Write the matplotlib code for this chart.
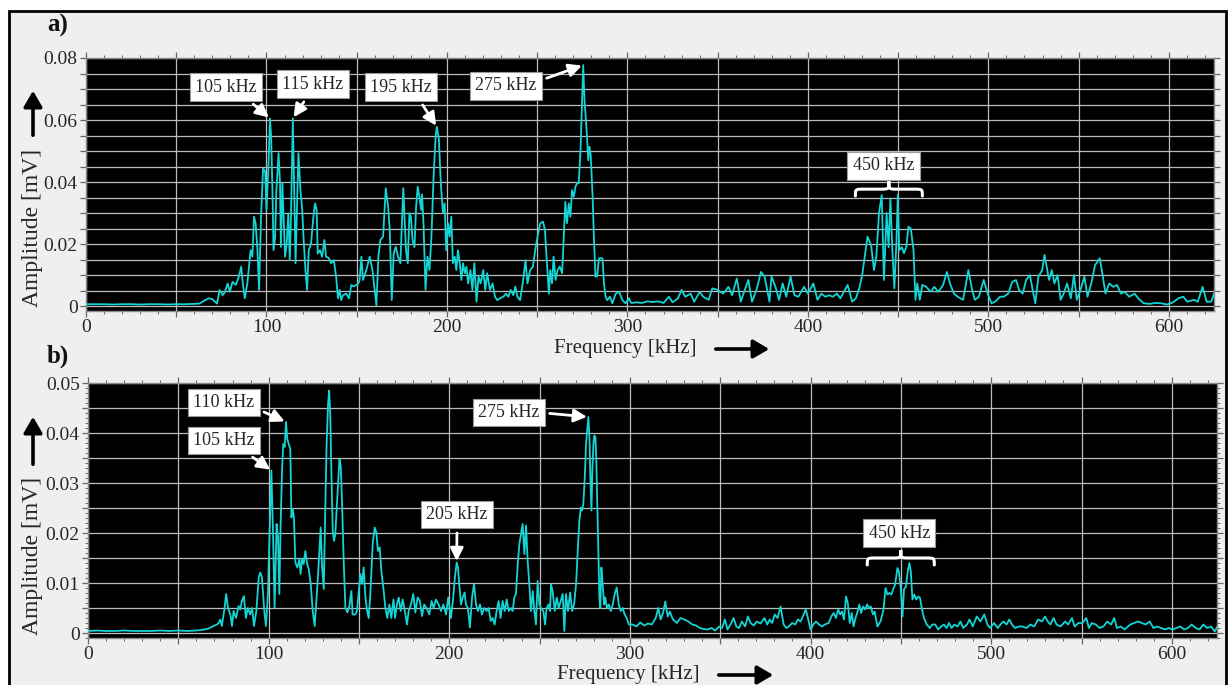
"""
Amplitude spectra of two acoustic emission signals, panels a) and b).
"""

# ============================================================
# Import Libraries
# ============================================================
import numpy as np
import matplotlib
matplotlib.use('Agg')
import matplotlib.pyplot as plt
from matplotlib.path import Path
from matplotlib.patches import PathPatch, Rectangle, FancyArrowPatch
from matplotlib.ticker import MultipleLocator, FuncFormatter

# ============================================================
# Configuration Constants
# ============================================================
FIG_W, FIG_H = 1228, 685
DPI = 100
FONT = ['Liberation Serif', 'DejaVu Serif']
LINE_COLOR = '#14d4d4'
GRID_COLOR = '#bdbdbd'
PANEL_BG = '#efefef'
TEXT_COLOR = '#262626'
F_MAX = 625

plt.rcParams['font.family'] = FONT

# ============================================================
# Data: spectrum a)
# ============================================================
freq_a = [
    0, 5, 10, 15, 20, 25, 30, 35, 40, 45, 50, 55, 60, 63,
    66, 68, 70, 72.6, 74, 75.8, 77, 78.5, 79.7, 81.2, 83, 84.7, 86, 86.9, 88, 89.4,
    91.2, 92.2, 93.1, 94, 95, 95.9, 97, 98.1, 99.3, 100, 101.1, 101.9, 102.6, 103.3,
    103.9, 104.8, 105.5, 106.7, 107.5, 108, 108.8, 109.5, 110.3, 111.2, 112.1, 112.9,
    113.6, 114.6, 115.3, 116.1, 116.8, 117.7, 118.8, 119.8, 120.5, 121.6, 122.5, 123.4,
    124.7, 126, 126.9, 127.8, 128.4, 129.7, 130.8, 132.1, 133, 134.5, 135.8, 137.3,
    138.6, 139.6, 140.5, 141.4, 142.4, 144.2, 145.7, 147, 148.3, 149.8, 150.9, 151.6,
    152.6, 153.5, 155.3, 157.2, 158.7, 160.9, 162, 163.1, 164.6, 166.1, 167.4, 168.3,
    169.4, 170.5, 171.6, 172.9, 174.2, 175.8, 177.3, 178.3, 179.2, 180, 181, 182,
    182.9, 183.8, 184.8, 185.7, 186.2, 187, 188.1, 189.2, 190.3, 191.4, 192.6, 193.7,
    194.4, 195.5, 196.7, 197.8, 198.7, 199.6, 200.6, 201.5, 202.4, 203.3, 204.3, 205.2,
    206.1, 207.1, 208, 208.9, 209.9, 210.8, 211.7, 213, 214.1, 215.2, 216.4, 217.5,
    218.6, 220.1, 221.2, 222.3, 223.8, 225.3, 226.6, 227.9, 229.4, 231.2, 232.7, 234,
    235.3, 236.8, 237.9, 239, 240.5, 242, 243.5, 244.6, 246.1, 247.6, 248.9, 250.2,
    251.7, 253.2, 254.3, 255.4, 256.5, 257.2, 258.2, 259.1, 260.2, 261.3, 262.5, 263.8,
    264.7, 265.6, 266.5, 267.5, 268.4, 269.3, 270.3, 271.2, 272.1, 273, 274, 274.9,
    275.5, 276.2, 277, 277.7, 278.3, 279, 279.7, 280.7, 281.4, 282.3, 283.2, 284.2,
    285.2, 286.2, 287, 287.9, 288.8, 290.3, 291.6, 293.5, 295.4, 297.2, 299, 300.9,
    302, 305, 308, 311, 314, 317, 320, 323, 325, 328, 330, 332, 335, 337, 340, 342,
    345, 347, 350, 353, 356, 358, 360.6, 362.8, 365, 367, 369, 371.5, 374, 376, 378.7,
    379.8, 382, 384, 386, 388, 390.4, 392.5, 394.7, 397.9, 400, 403, 405.3, 407.5,
    409.6, 411.7, 413.8, 416, 418, 420, 422, 424.5, 426.6, 428.7, 430.2, 433, 435,
    436.6, 437.9, 439.4, 440.9, 442.1, 443.6, 444.7, 445.7, 446.8, 447.9, 449, 449.8,
    450.6, 452.1, 453.2, 454.5, 455.7, 457, 458.5, 459.6, 460.6, 462, 463.4, 465.5,
    468, 470, 472.3, 474.9, 477, 478.7, 480.9, 483, 486, 488.9, 491, 492.5, 494.7,
    497.4, 499.6, 501.7, 503.8, 506.4, 508.5, 511, 513.2, 515.3, 517, 519, 520.9, 523,
    524.5, 526, 527.7, 529.8, 531.1, 532.3, 533.6, 535.1, 536.6, 538.3, 540, 541.7,
    543.6, 545.7, 547.4, 549, 551, 553.2, 554.9, 557, 559.1, 561.7, 563.4, 564.9, 567,
    569.1, 571.3, 573.4, 575.5, 578, 581, 583, 586, 589.5, 592.5, 595.7, 598.9, 602,
    605.3, 608, 610.2, 614, 616, 618.7, 620.9, 623.5, 625,
]
amp_a = [
    0.0006, 0.0006, 0.0006, 0.0005, 0.0006, 0.0006, 0.0005, 0.0006, 0.0006, 0.0005,
    0.0006, 0.0006, 0.0007, 0.0008,
    0.0019, 0.0025, 0.0022, 0.0008, 0.0052, 0.0035, 0.0046, 0.0073, 0.0046, 0.0078,
    0.0068, 0.0095, 0.0127, 0.0073, 0.0025, 0.0073,
    0.018, 0.0159, 0.0288, 0.0267, 0.018, 0.0052, 0.0288, 0.0444, 0.0433, 0.031, 0.045,
    0.0605, 0.0546, 0.0374,
    0.018, 0.0224, 0.0374, 0.0493, 0.0396, 0.0191, 0.0396, 0.0288, 0.0159, 0.0202,
    0.0299, 0.0148,
    0.0288, 0.0605, 0.0396, 0.0138, 0.0288, 0.0493, 0.0374, 0.031, 0.0224, 0.0116,
    0.0052, 0.018,
    0.0202, 0.0288, 0.0331, 0.031, 0.0169, 0.018, 0.0159, 0.0213, 0.0159, 0.0155,
    0.0138, 0.0148,
    0.0095, 0.0025, 0.0052, 0.0019, 0.0035, 0.004, 0.0025, 0.0068, 0.0063, 0.0068,
    0.0073, 0.0084,
    0.0159, 0.0084, 0.0116, 0.0159, 0.0116, 0.0003, 0.0159, 0.0213, 0.0224, 0.038,
    0.032, 0.0245,
    0.0019, 0.0169, 0.0191, 0.0159, 0.0138, 0.038, 0.018, 0.0138, 0.030, 0.0288,
    0.021, 0.019,
    0.032, 0.0385, 0.035, 0.031, 0.036, 0.0267, 0.0052, 0.0159, 0.0116, 0.0224,
    0.0418, 0.0546,
    0.0578, 0.054, 0.0385, 0.030, 0.0331, 0.018, 0.0267, 0.0224, 0.0288, 0.0138,
    0.0159, 0.0116,
    0.018, 0.0138, 0.0084, 0.0138, 0.0106, 0.0127, 0.0073, 0.0116, 0.0052, 0.0138,
    0.0014, 0.0095,
    0.0073, 0.0116, 0.0052, 0.0106, 0.0052, 0.0073, 0.003, 0.0019, 0.0025, 0.003,
    0.004, 0.003,
    0.0052, 0.0035, 0.0063, 0.003, 0.0019, 0.0073, 0.0148, 0.0073, 0.0116, 0.0127,
    0.018, 0.0224,
    0.0267, 0.0272, 0.0245, 0.0138, 0.004, 0.0116, 0.0073, 0.0159, 0.0084, 0.0116,
    0.0127, 0.0106,
    0.0224, 0.0336, 0.0267, 0.0331, 0.0288, 0.0374, 0.0353, 0.0385, 0.0396, 0.0396,
    0.0503, 0.0665,
    0.0777, 0.0665, 0.060, 0.0535, 0.047, 0.0514, 0.0482, 0.0353, 0.0224, 0.0095,
    0.0095, 0.0154,
    0.0154, 0.0154, 0.0073, 0.003, 0.0019, 0.003, 0.0009, 0.004, 0.0046, 0.0019,
    0.0009, 0.0025,
    0.001, 0.0012, 0.001, 0.0015, 0.0013, 0.0015, 0.001, 0.003, 0.0012, 0.0025, 0.0052,
    0.003, 0.004, 0.0014, 0.0046, 0.003,
    0.002, 0.0057, 0.0052, 0.004, 0.0062, 0.0035, 0.0089, 0.0014, 0.0052, 0.0084,
    0.0014, 0.0052, 0.011, 0.0095, 0.0014,
    0.0095, 0.0062, 0.002, 0.0073, 0.003, 0.0095, 0.0035, 0.003, 0.0062, 0.004, 0.0073,
    0.002, 0.004,
    0.003, 0.0035, 0.003, 0.004, 0.0025, 0.0046, 0.0068, 0.0014, 0.0025, 0.0062,
    0.0105, 0.0224, 0.0197,
    0.0116, 0.0159, 0.030, 0.0358, 0.0084, 0.030, 0.019, 0.0347, 0.018, 0.0057, 0.020,
    0.0358,
    0.018, 0.019, 0.017, 0.019, 0.0256, 0.025, 0.018, 0.002, 0.0073, 0.002, 0.0068,
    0.0062,
    0.0046, 0.0062, 0.0046, 0.0068, 0.011, 0.0073, 0.004, 0.003, 0.002, 0.0116, 0.0052,
    0.002, 0.003,
    0.0084, 0.004, 0.0009, 0.0014, 0.003, 0.003, 0.004, 0.0078, 0.0084, 0.0052, 0.004,
    0.0084, 0.01,
    0.0052, 0.0009, 0.0095, 0.0116, 0.0165, 0.0127, 0.0084, 0.0116, 0.0073, 0.01,
    0.002, 0.004,
    0.0073, 0.0025, 0.01, 0.002, 0.0052, 0.0095, 0.003, 0.0073, 0.0132, 0.0154, 0.0095,
    0.004, 0.0073,
    0.0062, 0.0068, 0.004, 0.0046, 0.003, 0.004, 0.0025, 0.0009, 0.0007, 0.001, 0.0009,
    0.0005, 0.0011,
    0.0025, 0.003, 0.0014, 0.002, 0.0014, 0.0062, 0.0014, 0.0014, 0.004,
]

# ============================================================
# Data: spectrum b)
# ============================================================
freq_b = [
    0, 5, 10, 15, 20, 25, 30, 35, 40, 45, 50, 55, 60, 63,
    66.8, 69.5, 71.4, 72.3, 73.2, 74.1, 75.6, 76.5, 77.5, 78.8, 79.7, 80.6, 81.9, 83.4,
    84.3, 85.2, 86.3, 87.4, 88.5, 89.8, 90.8, 91.9, 93.2, 94.5, 95.4, 96.3, 97.6, 98.5,
    99.6, 100.6, 101.5, 102.4, 103.3, 104.4, 105.2, 105.9, 106.6, 107.4, 108.1, 108.9,
    109.6, 110.3, 111.1, 112, 112.6, 113.3, 114, 114.8, 115.9, 117, 117.7, 118.5, 119.4,
    120.3, 121.3, 122.2, 123.3, 124.4, 125.5, 126.8, 128.1, 128.8, 129.5, 130.5, 131.4,
    132.1, 132.9, 133.5, 134.1, 134.8, 135.5, 136.2, 136.9, 138, 139.2, 139.9, 140.6,
    141.6, 142.5, 143.6, 144.7, 145.8, 146.5, 148, 148.9, 149.9, 150.8, 151.7, 152.6,
    153.6, 154.5, 155.4, 156.3, 157.6, 158.7, 159.6, 160.5, 161.5, 162.4, 163.7, 164.6,
    165.7, 166.8, 167.9, 169.1, 170, 171, 172, 173.1, 174.2, 175.4, 176.6,
    177.5, 178.8, 180.1, 181.2, 182.5, 183.7, 184.9, 186.1, 187.4, 188.9, 190.2, 191.3,
    192.6, 194.1, 195.4, 196.7, 198.2, 199.4, 200.9, 202.2, 203.1, 204.1, 204.8, 205.5,
    206.5, 207.4, 208.5, 209.2, 210.3, 211.4, 212.6, 213.7, 214.8, 215.9, 217, 218.1,
    219.4, 220.7, 221.8, 222.9, 224, 225.1, 226.2, 227.3, 228.4, 229.5, 230.7, 231.8,
    232.9, 234, 235.1, 236, 236.9, 237.9, 238.8, 239.7, 240.6, 241.6, 242.5, 243.4,
    244.3, 245.2, 246.2, 247.1, 248, 248.9, 249.9, 250.8, 252.1, 253, 253.9, 255,
    255.8, 256.3, 257.2, 258.4, 259.5, 260.6, 261.7, 262.8, 263.7, 264.6, 265.7, 266.9,
    268, 269.1, 270.2, 271.1, 272, 272.9, 273.5, 274.2, 275, 275.7, 276.5, 277,
    277.6, 278.1, 278.7, 279.2, 279.8, 280.3, 280.9, 281.4, 282, 282.5, 283.1, 283.6,
    284.2, 284.9, 285.7, 286.4, 287.2, 288.3, 289.4, 290.5, 291.6, 292.7, 293.8, 294.9,
    296, 297.1, 298.2, 299.4,
    301.5, 303.6, 305.7, 307.9, 310, 312.1, 314.3, 315.7, 317, 318.3, 319.6, 320.9,
    322.1, 323.8, 326, 328, 330.2, 332.3, 334.5, 336.6, 338.7, 340.9, 343, 345.1,
    347.2, 349.4, 351, 352.6, 354, 355.7, 357.4, 358.9, 360.4, 362, 363.8, 365.3,
    366.8, 368.5, 370.2, 372.3, 374.5, 376, 377.4, 378.7, 380.2, 381.7, 383.4, 385.1,
    386.6, 388, 389.8, 391.5, 393, 394.5, 396.2, 397.4, 398.7, 400, 401.5, 403,
    404.7, 406.4, 407.9, 410, 411.5, 412.8, 414, 415.3, 416.4, 417.4, 418.5, 419.6,
    420.6, 421.7, 422.8, 423.8, 424.9, 426, 427, 428, 429.1, 430.2, 431.3, 432.3,
    433.4, 434.5, 435.5, 437, 438.7, 440.4, 441.5, 442.6, 443.6, 444.7, 445.7, 446.8,
    448.1, 448.9, 450, 450.9, 451.7, 452.8, 453.8, 454.7, 455.5, 456.4, 457.4, 458.5,
    459.6, 460.6, 461.7, 462.8, 464.3, 466, 467.4, 469, 470.6, 472.3, 473.8, 475.3,
    476.6, 478.1, 479.6, 481.3, 483, 484.5, 486.6, 488, 489.8, 492, 494, 496.2,
    497.9, 499.4, 501.5, 503.6, 505.1, 506.8, 508.5, 510, 511.5, 513.2, 515.3, 517.4,
    519.6, 521.7, 523.8, 526, 528.1, 529.8, 531.3, 532.8, 534.5, 536.2, 538.3, 540.9,
    542.6, 544.7, 546.2, 548.3, 550.4, 552.6, 554.1, 555.7, 557.9, 560, 562.1, 564.3,
    566.4, 568.1, 569.6, 571.7, 573.8, 577, 579.1, 581.3, 583.4, 585.5, 587.7, 589.8,
    591.9, 594, 596.2, 598.3, 600.4, 602.6, 604.7, 606.8, 608.9, 611, 613.2, 615.3,
    617.4, 619.6, 621.7, 623.8, 625,
]
amp_b = [
    0.0004, 0.0005, 0.0004, 0.0004, 0.0005, 0.0004, 0.0004, 0.0004, 0.0005, 0.0004,
    0.0005, 0.0004, 0.0005, 0.0006,
    0.0009, 0.0014, 0.0017, 0.002, 0.0027, 0.0014, 0.005, 0.0078, 0.005, 0.0037,
    0.0014, 0.0044, 0.003, 0.0054,
    0.0047, 0.0064, 0.0074, 0.003, 0.005, 0.0037, 0.005, 0.0014, 0.0044, 0.0111,
    0.0121, 0.0111, 0.0044, 0.0014,
    0.0078, 0.0211, 0.0325, 0.0204, 0.005, 0.0218, 0.0191, 0.0078, 0.0211, 0.0325,
    0.0378, 0.0372,
    0.0422, 0.0388, 0.0378, 0.0368, 0.0231, 0.0248, 0.0231, 0.0141, 0.0131, 0.0148,
    0.0118, 0.0148, 0.0138,
    0.0164, 0.0138, 0.0128, 0.0098, 0.0044, 0.0014, 0.0084, 0.0164, 0.0211, 0.0138,
    0.0088, 0.0258,
    0.0378, 0.0458, 0.0485, 0.0438, 0.0311, 0.0204, 0.0184, 0.0198, 0.0271, 0.0348,
    0.0335, 0.0265,
    0.0138, 0.005, 0.0041, 0.0054, 0.0084, 0.0037, 0.0037, 0.0044, 0.0084, 0.0118,
    0.0098, 0.0131,
    0.0071, 0.0044, 0.003, 0.0078, 0.0178, 0.0211, 0.0201, 0.0164, 0.0171, 0.0124,
    0.0084, 0.005,
    0.003, 0.0057, 0.003, 0.0067, 0.003, 0.0057, 0.0071, 0.0044, 0.0067, 0.0044, 0.0017,
    0.0044, 0.0057, 0.0078, 0.0041, 0.0071, 0.0064, 0.0034, 0.0057, 0.005, 0.0037,
    0.0064, 0.005,
    0.0067, 0.0057, 0.0044, 0.0057, 0.0037, 0.0071, 0.003, 0.0071, 0.0111, 0.0141,
    0.0131, 0.0098,
    0.0057, 0.0071, 0.0081, 0.0057, 0.005, 0.0011, 0.0071, 0.0098, 0.0057, 0.0044,
    0.0057, 0.0037,
    0.005, 0.0044, 0.005, 0.0024, 0.003, 0.0017, 0.0044, 0.0064, 0.003, 0.0064, 0.0044,
    0.0067,
    0.0044, 0.005, 0.0044, 0.0071, 0.0078, 0.0138, 0.0178, 0.0198, 0.0218, 0.0158,
    0.0215, 0.0144,
    0.0098, 0.0044, 0.0084, 0.0044, 0.0017, 0.0104, 0.0057, 0.005, 0.0044, 0.0017,
    0.005, 0.0057,
    0.0044, 0.0098, 0.0084, 0.0044, 0.0071, 0.005, 0.0064, 0.0078, 0.0004, 0.0078,
    0.0044, 0.0081,
    0.0044, 0.0057, 0.0098, 0.0164, 0.0225, 0.0251, 0.0245, 0.0258, 0.0311, 0.0378,
    0.0412, 0.0432,
    0.0392, 0.0311, 0.0245, 0.0325, 0.0378, 0.0395, 0.0392, 0.0345, 0.0245, 0.0158,
    0.0071, 0.005,
    0.0131, 0.0098, 0.0057, 0.0071, 0.005, 0.0057, 0.0044, 0.0057, 0.0078, 0.0091,
    0.0057, 0.0044,
    0.005, 0.0037, 0.003, 0.0017,
    0.0017, 0.0013, 0.0021, 0.0015, 0.0019, 0.0017, 0.003, 0.005, 0.0027, 0.004, 0.0063,
    0.0033,
    0.0043, 0.0027, 0.002, 0.003, 0.0027, 0.0023, 0.0017, 0.0015, 0.001, 0.0008, 0.0007,
    0.001,
    0.0005, 0.0013, 0.001, 0.0027, 0.0007, 0.0017, 0.003, 0.0013, 0.001, 0.0023, 0.0013,
    0.0033,
    0.002, 0.0015, 0.0023, 0.0019, 0.003, 0.0017, 0.0027, 0.002, 0.0037, 0.003, 0.0053,
    0.0017,
    0.001, 0.0013, 0.002, 0.0017, 0.0027, 0.0023, 0.0037, 0.0047, 0.0027, 0.0007, 0.0017,
    0.0023,
    0.0017, 0.0013, 0.0017, 0.002, 0.0033, 0.004, 0.003, 0.0047, 0.0037, 0.0043, 0.0027,
    0.0073,
    0.006, 0.002, 0.004, 0.0013, 0.003, 0.0043, 0.0057, 0.004, 0.0053, 0.0047, 0.0057,
    0.005,
    0.0053, 0.0037, 0.0043, 0.0013, 0.0023, 0.0047, 0.009, 0.0077, 0.008, 0.0077, 0.0087,
    0.0097,
    0.013, 0.0123, 0.0087, 0.0033, 0.0087, 0.0093, 0.0123, 0.014, 0.0123, 0.0067, 0.0077,
    0.0067,
    0.0073, 0.007, 0.0047, 0.003, 0.0017, 0.001, 0.0017, 0.0017, 0.0007, 0.0013, 0.0017,
    0.001,
    0.002, 0.001, 0.0017, 0.0013, 0.0023, 0.001, 0.0017, 0.0027, 0.0013, 0.0033, 0.0023,
    0.0037,
    0.0017, 0.001, 0.002, 0.001, 0.0017, 0.0023, 0.0017, 0.0027, 0.0017, 0.001, 0.0013,
    0.0013,
    0.001, 0.0017, 0.0013, 0.0027, 0.0023, 0.0033, 0.0023, 0.0017, 0.003, 0.0017, 0.0013,
    0.0023,
    0.0017, 0.003, 0.0013, 0.002, 0.002, 0.003, 0.001, 0.002, 0.0017, 0.001, 0.0013,
    0.0023,
    0.0017, 0.003, 0.001, 0.0013, 0.0007, 0.0017, 0.002, 0.0023, 0.002, 0.0017, 0.0023,
    0.001,
    0.0013, 0.001, 0.0007, 0.001, 0.0007, 0.001, 0.0013, 0.0007, 0.001, 0.0017, 0.001,
    0.0007,
    0.0017, 0.001, 0.0013, 0.0003, 0.0012,
]


# ============================================================
# Helpers
# ============================================================
def px_x(x):
    """Figure fraction from a pixel column."""
    return x / FIG_W


def px_y(y):
    """Figure fraction from a pixel row (counted from the top)."""
    return 1 - y / FIG_H


def peak(freq, amp, lo, hi):
    """Highest point of the spectrum inside [lo, hi] kHz."""
    f = np.asarray(freq)
    a = np.asarray(amp)
    mask = (f >= lo) & (f <= hi)
    i = np.argmax(np.where(mask, a, -1))
    return f[i], a[i]


def style_axes(ax, y_top, y_step, y_minor, y_label_step, y_bottom):
    ax.set_facecolor('black')
    ax.set_xlim(0, F_MAX)
    ax.set_ylim(y_bottom, y_top)

    # grid every 50 kHz and every 0.005 mV, labels on 100 kHz
    ax.xaxis.set_major_locator(MultipleLocator(50))
    ax.xaxis.set_minor_locator(MultipleLocator(10))
    ax.yaxis.set_major_locator(MultipleLocator(y_step))
    ax.yaxis.set_minor_locator(MultipleLocator(y_minor))

    def fmt_x(v, pos):
        return f'{v:.0f}' if abs(v % 100) < 1e-6 else ''

    def fmt_y(v, pos):
        if abs(v) < 1e-9:
            return '0'
        k = v / y_label_step
        return f'{v:.2f}' if abs(k - round(k)) < 1e-6 else ''

    ax.xaxis.set_major_formatter(FuncFormatter(fmt_x))
    ax.yaxis.set_major_formatter(FuncFormatter(fmt_y))

    ax.grid(True, which='major', color=GRID_COLOR, lw=0.9)
    ax.set_axisbelow(True)

    ax.tick_params(which='both', direction='out', top=True, right=True,
                   color='#666666', labelsize=14, labelcolor=TEXT_COLOR,
                   labelfontfamily=FONT)
    ax.tick_params(which='major', length=4, width=0.9, pad=2)
    ax.tick_params(which='minor', length=2.5, width=0.7)
    for sp in ax.spines.values():
        sp.set_color('#8a8a8a')
        sp.set_linewidth(1)


def label_box(ax, text, xy, xytext, relpos):
    ax.annotate(
        text, xy=xy, xytext=xytext, ha='center', va='center',
        fontsize=13, color=TEXT_COLOR, zorder=6,
        bbox=dict(boxstyle='square,pad=0.3', fc='white', ec='#9a9a9a', lw=0.8),
        arrowprops=dict(arrowstyle='-|>,head_length=0.6,head_width=0.3',
                        color='white', lw=2.0, shrinkA=3, shrinkB=1,
                        relpos=relpos),
    )


def plain_box(ax, text, xy):
    ax.text(xy[0], xy[1], text, ha='center', va='center', fontsize=13,
            color=TEXT_COLOR, zorder=6,
            bbox=dict(boxstyle='square,pad=0.3', fc='white', ec='#9a9a9a', lw=0.8))


def brace(ax, x0, x1, y_end, y_bar, y_tip):
    """Horizontal curly brace opening downwards."""
    xc = 0.5 * (x0 + x1)
    q = 0.12 * (x1 - x0)
    verts = [
        (x0, y_end), (x0, y_bar), (x0, y_bar), (x0 + q, y_bar),
        (xc - q, y_bar),
        (xc, y_bar), (xc, y_bar), (xc, y_tip),
        (xc, y_bar), (xc, y_bar), (xc + q, y_bar),
        (x1 - q, y_bar),
        (x1, y_bar), (x1, y_bar), (x1, y_end),
    ]
    codes = [Path.MOVETO, Path.CURVE4, Path.CURVE4, Path.CURVE4,
             Path.LINETO,
             Path.CURVE4, Path.CURVE4, Path.CURVE4,
             Path.CURVE4, Path.CURVE4, Path.CURVE4,
             Path.LINETO,
             Path.CURVE4, Path.CURVE4, Path.CURVE4]
    ax.add_patch(PathPatch(Path(verts, codes), fc='none', ec='white',
                           lw=2.2, capstyle='round', zorder=5))


def axis_titles(fig, y_label_y, y_arrow, x_label, x_arrow):
    fig.text(px_x(33), px_y(y_label_y), 'Amplitude [mV]', rotation=90,
             ha='center', va='center', fontsize=17, color=TEXT_COLOR)
    fig.add_artist(FancyArrowPatch(
        (px_x(33), px_y(y_arrow[0])), (px_x(33), px_y(y_arrow[1])),
        transform=fig.transFigure, arrowstyle='-|>,head_length=6,head_width=3.5',
        color='black', lw=2.6, mutation_scale=1.6))
    fig.text(px_x(x_label[0]), px_y(x_label[1]), 'Frequency [kHz]',
             ha='center', va='center', fontsize=15, color=TEXT_COLOR)
    fig.add_artist(FancyArrowPatch(
        (px_x(x_arrow[0]), px_y(x_arrow[2])), (px_x(x_arrow[1]), px_y(x_arrow[2])),
        transform=fig.transFigure, arrowstyle='-|>,head_length=6,head_width=3.5',
        color='black', lw=2.6, mutation_scale=1.6))


# ============================================================
# Figure and panel frame
# ============================================================
fig = plt.figure(figsize=(FIG_W / DPI, FIG_H / DPI), dpi=DPI, facecolor='white')
fig.add_artist(Rectangle((px_x(9), -0.05), px_x(1217), px_y(11) + 0.05,
                         transform=fig.transFigure, fc=PANEL_BG, ec='black',
                         lw=2, zorder=-10))

ax_a = fig.add_axes([px_x(86), px_y(311), px_x(1214 - 86), (311 - 58) / FIG_H])
ax_b = fig.add_axes([px_x(88), px_y(638), px_x(1217 - 88), (638 - 383) / FIG_H])

# ============================================================
# Panel a)
# ============================================================
style_axes(ax_a, 0.08, 0.005, 0.005, 0.02, -0.0016)
ax_a.plot(freq_a, amp_a, color=LINE_COLOR, lw=1.3, zorder=3)

label_box(ax_a, '105 kHz', peak(freq_a, amp_a, 95, 105), (77.6, 0.0706), (0.78, 0))
label_box(ax_a, '115 kHz', peak(freq_a, amp_a, 110, 116), (125.8, 0.0716), (0.45, 0))
label_box(ax_a, '195 kHz', peak(freq_a, amp_a, 188, 200), (174.6, 0.0706), (0.75, 0))
label_box(ax_a, '275 kHz', peak(freq_a, amp_a, 268, 282), (232.8, 0.0710), (1, 0.75))
plain_box(ax_a, '450 kHz', (441.8, 0.0452))
brace(ax_a, 426.3, 463.4, 0.0355, 0.0377, 0.0403)

# ============================================================
# Panel b)
# ============================================================
style_axes(ax_b, 0.05, 0.005, 0.001, 0.01, -0.001)
ax_b.plot(freq_b, amp_b, color=LINE_COLOR, lw=1.3, zorder=3)

label_box(ax_b, '110 kHz', peak(freq_b, amp_b, 106, 112), (75.2, 0.0461), (1, 0.2))
label_box(ax_b, '105 kHz', peak(freq_b, amp_b, 99, 104), (75.2, 0.0385), (0.78, 0))
label_box(ax_b, '205 kHz', peak(freq_b, amp_b, 200, 210), (204.3, 0.0237), (0.5, 0))
label_box(ax_b, '275 kHz', peak(freq_b, amp_b, 270, 282), (233.0, 0.0441), (1, 0.5))
plain_box(ax_b, '450 kHz', (449.1, 0.0200))
brace(ax_b, 431.4, 468.5, 0.0136, 0.0150, 0.0166)

# ============================================================
# Axis titles and panel letters
# ============================================================
axis_titles(fig, 228, (138, 88), (625, 349), (713, 772, 349))
axis_titles(fig, 556, (467, 414), (628, 675), (716, 776, 675))

fig.text(px_x(47), px_y(25), 'a)', ha='left', va='center', fontsize=18,
         fontweight='bold', color='#111111')
fig.text(px_x(47), px_y(356), 'b)', ha='left', va='center', fontsize=18,
         fontweight='bold', color='#111111')

fig.savefig('out.png', dpi=DPI, facecolor=fig.get_facecolor())
plt.close(fig)
print('Saved: out.png')
